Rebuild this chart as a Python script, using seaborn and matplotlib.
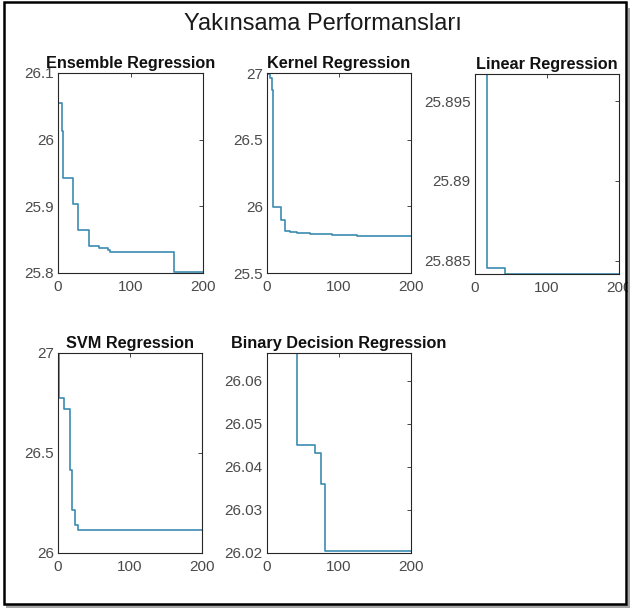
import matplotlib
matplotlib.use("Agg")
import matplotlib.pyplot as plt
from matplotlib.patches import Rectangle
from matplotlib.ticker import FuncFormatter
import seaborn as sns
import pandas as pd

# ---------------- data ----------------
fig_title = "Yakınsama Performansları"

ensemble_x = [0, 5, 7, 21, 28, 43, 57, 69, 72, 160, 200]
ensemble_y = [26.055, 26.013, 25.943, 25.904, 25.864, 25.840, 25.837, 25.834, 25.831, 25.802, 25.802]

kernel_x = [0, 4, 7, 9, 20, 25, 32, 42, 60, 90, 125, 200]
kernel_y = [26.995, 26.96, 26.87, 25.995, 25.897, 25.815, 25.81, 25.80, 25.79, 25.785, 25.78, 25.78]

linear_x = [0, 16, 41, 200]
linear_y = [25.8967, 25.88454, 25.88416, 25.88416]

svm_x = [0, 1, 9, 17, 20, 23, 28, 200]
svm_y = [27.0, 26.775, 26.72, 26.415, 26.217, 26.139, 26.114, 26.114]

binary_x = [0, 42, 66, 75, 80, 200]
binary_y = [26.0664, 26.045, 26.0432, 26.0359, 26.0205, 26.0205]

titles = ["Ensemble Regression", "Kernel Regression", "Linear Regression",
          "SVM Regression", "Binary Decision Regression"]
xticks = [0, 100, 200]
ensemble_yticks = [25.8, 25.9, 26.0, 26.1]
kernel_yticks = [25.5, 26.0, 26.5, 27.0]
linear_yticks = [25.885, 25.89, 25.895]
svm_yticks = [26.0, 26.5, 27.0]
binary_yticks = [26.02, 26.03, 26.04, 26.05, 26.06]

ylims = [(25.8, 26.1), (25.5, 27.0), (25.88416, 25.8967), (26.0, 27.0), (26.02, 26.0664)]

# ---------------- style ----------------
sns.set_theme(style="white")
plt.rcParams["font.family"] = ["Liberation Sans", "DejaVu Sans"]

W, H = 630, 608
fig = plt.figure(figsize=(W / 100, H / 100), dpi=100)
fig.patch.set_facecolor("white")

def box(left, top, right, bottom):
    return [left / W, 1 - bottom / H, (right - left) / W, (bottom - top) / H]

positions = [box(58, 73, 203, 273), box(267, 73, 411, 273), box(475, 74, 619, 274),
             box(58, 353, 202, 553), box(267, 353, 411, 553)]

series = [(ensemble_x, ensemble_y, ensemble_yticks),
          (kernel_x, kernel_y, kernel_yticks),
          (linear_x, linear_y, linear_yticks),
          (svm_x, svm_y, svm_yticks),
          (binary_x, binary_y, binary_yticks)]

line_color = "#3b8bb0"
tick_color = "#4a4a4a"
fmt = FuncFormatter(lambda v, p: "%g" % round(v, 6))

for pos, (xs, ys, yt), title, yl in zip(positions, series, titles, ylims):
    ax = fig.add_axes(pos)
    df = pd.DataFrame({"iter": xs, "val": ys})
    sns.lineplot(data=df, x="iter", y="val", ax=ax, color=line_color,
                 linewidth=1.2, drawstyle="steps-post", legend=False)
    ax.set_xlim(0, 200)
    ax.set_ylim(*yl)
    ax.set_xticks(xticks)
    ax.set_yticks(yt)
    ax.xaxis.set_major_formatter(fmt)
    ax.yaxis.set_major_formatter(fmt)
    ax.set_xlabel("")
    ax.set_ylabel("")
    ax.tick_params(direction="in", top=True, right=True, length=3, width=0.6,
                   color="#262626", labelsize=11, labelcolor=tick_color)
    ax.tick_params(axis="x", pad=5)
    ax.tick_params(axis="y", pad=3)
    for s in ax.spines.values():
        s.set_color("#262626")
        s.set_linewidth(0.8)
        s.set_visible(True)
    ax.set_title(title, fontsize=11.7, fontweight="bold", color="#111111", pad=3.3)

fig.text(323 / W, 1 - 29.5 / H, fig_title, ha="center", va="baseline",
         fontsize=17, color="#1a1a1a")

# outer frame with shadow
fig.add_artist(Rectangle((6 / W, 0), 624 / W, 3 / H, transform=fig.transFigure,
                         facecolor="#a6a6a6", edgecolor="none", zorder=9))
fig.add_artist(Rectangle((627.5 / W, 0), 2.5 / W, 600 / H, transform=fig.transFigure,
                         facecolor="#a6a6a6", edgecolor="none", zorder=9))
fig.add_artist(Rectangle((3.8 / W, 1 - 604 / H), (626.2 - 3.8) / W, (604 - 2) / H,
                         transform=fig.transFigure, facecolor="none",
                         edgecolor="black", linewidth=1.8, zorder=10))

fig.savefig("out.png", dpi=100, facecolor="white")
